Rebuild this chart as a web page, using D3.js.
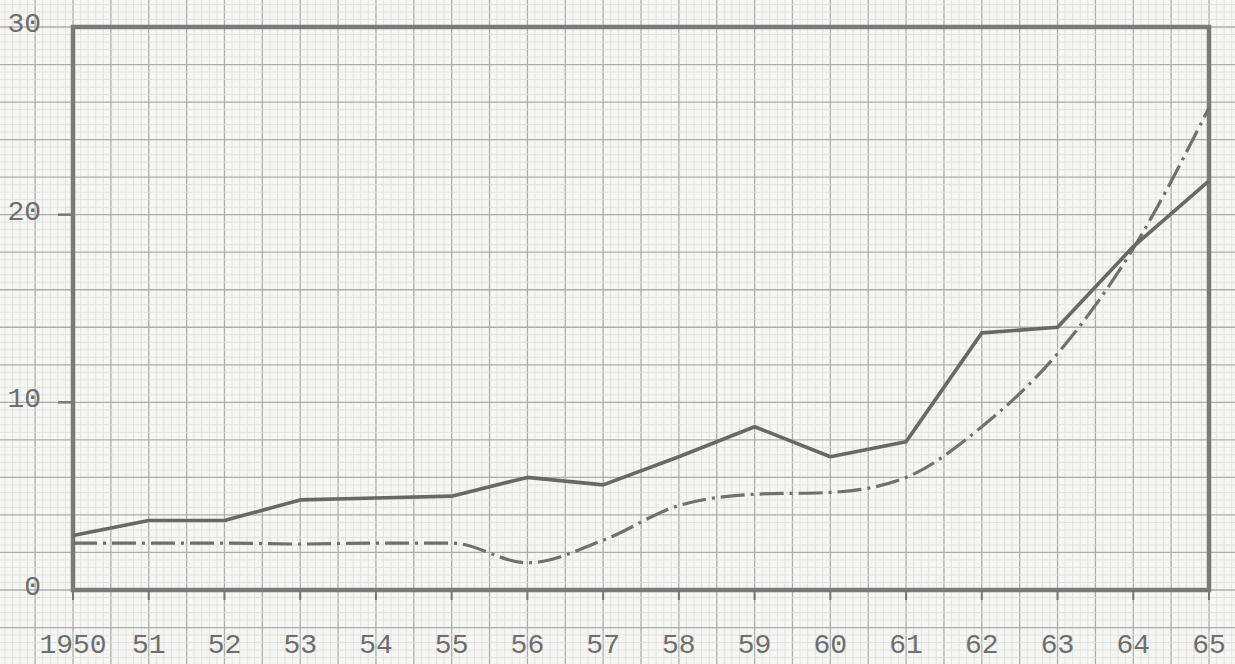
<!DOCTYPE html>
<html>
<head>
<meta charset="utf-8">
<script src="https://cdn.jsdelivr.net/npm/d3@7"></script>
<style>
    html, body { margin: 0; padding: 0; background: #f6f6f4; }
    svg { display: block; }
    .lbl { font-family: "Liberation Mono", "DejaVu Sans Mono", monospace; font-size: 28px; fill: #6e6e6e; }
</style>
</head>
<body>
<div id="chart"></div>
<script>
var years = [1950, 1951, 1952, 1953, 1954, 1955, 1956, 1957, 1958, 1959, 1960, 1961, 1962, 1963, 1964, 1965];
var yearLabels = ['1950', '51', '52', '53', '54', '55', '56', '57', '58', '59', '60', '61', '62', '63', '64', '65'];
var solidValues = [2.9, 3.7, 3.7, 4.8, 4.9, 5.0, 6.0, 5.6, 7.1, 8.7, 7.1, 7.9, 13.7, 14.0, 18.3, 21.8];
var dashValues = [2.5, 2.5, 2.5, 2.45, 2.5, 2.5, 1.45, 2.65, 4.5, 5.1, 5.2, 6.0, 8.7, 12.6, 18.2, 25.7];
var yTicks = [0, 10, 20, 30];

var W = 1235, H = 664;

var x = d3.scaleLinear().domain([1950, 1965]).range([73, 1209]),
    y = d3.scaleLinear().domain([0, 30]).range([590, 27]);

var svg = d3.select('#chart').append('svg')
    .attr('width', W)
    .attr('height', H);

svg.append('rect').attr('width', W).attr('height', H).attr('fill', '#f6f6f4');

// graph paper: fine lines every 1/5 of a major square
var gx = [], gy = [], i, v;
for (i = -60; i <= 200; i++) {
    v = 1950 + i * 0.1;
    if (x(v) >= 0 && x(v) <= W) gx.push({v: v, major: i % 5 === 0});
}
for (i = -20; i <= 90; i++) {
    v = i * 0.4;
    if (y(v) >= 0 && y(v) <= H) gy.push({v: v, major: i % 5 === 0});
}

var grid = svg.append('g').attr('class', 'grid');
grid.selectAll('line.gx')
    .data(gx)
    .enter().append('line')
    .attr('class', 'gx')
    .attr('x1', function(d) { return x(d.v); })
    .attr('x2', function(d) { return x(d.v); })
    .attr('y1', 0)
    .attr('y2', H)
    .attr('stroke', function(d) { return d.major ? '#adadad' : '#e0e0de'; })
    .attr('stroke-width', function(d) { return d.major ? 1.3 : 0.9; });
grid.selectAll('line.gy')
    .data(gy)
    .enter().append('line')
    .attr('class', 'gy')
    .attr('x1', 0)
    .attr('x2', W)
    .attr('y1', function(d) { return y(d.v); })
    .attr('y2', function(d) { return y(d.v); })
    .attr('stroke', function(d) { return d.major ? '#adadad' : '#e0e0de'; })
    .attr('stroke-width', function(d) { return d.major ? 1.3 : 0.9; });

// frame
svg.append('rect')
    .attr('x', x(1950))
    .attr('y', y(30))
    .attr('width', x(1965) - x(1950))
    .attr('height', y(0) - y(30))
    .attr('fill', 'none')
    .attr('stroke', '#7a7a7a')
    .attr('stroke-width', 4.5);

// ticks
svg.selectAll('line.xt')
    .data(years)
    .enter().append('line')
    .attr('class', 'xt')
    .attr('x1', function(d) { return x(d); })
    .attr('x2', function(d) { return x(d); })
    .attr('y1', y(0))
    .attr('y2', y(0) + 10)
    .attr('stroke', '#777')
    .attr('stroke-width', 2);
svg.selectAll('line.yt')
    .data([10, 20])
    .enter().append('line')
    .attr('class', 'yt')
    .attr('x1', x(1950) - 15)
    .attr('x2', x(1950))
    .attr('y1', function(d) { return y(d); })
    .attr('y2', function(d) { return y(d); })
    .attr('stroke', '#777')
    .attr('stroke-width', 2.5);

// labels
svg.selectAll('text.xl')
    .data(years)
    .enter().append('text')
    .attr('class', 'lbl xl')
    .attr('x', function(d) { return x(d); })
    .attr('y', 653)
    .attr('text-anchor', 'middle')
    .text(function(d, i) { return yearLabels[i]; });
svg.selectAll('text.yl')
    .data(yTicks)
    .enter().append('text')
    .attr('class', 'lbl yl')
    .attr('x', 41)
    .attr('y', function(d) { return y(d) + 5; })
    .attr('text-anchor', 'end')
    .text(function(d) { return d; });

// series
var solid = d3.line()
    .x(function(d, i) { return x(years[i]); })
    .y(function(d) { return y(d); });
var dashed = d3.line()
    .curve(d3.curveMonotoneX)
    .x(function(d, i) { return x(years[i]); })
    .y(function(d) { return y(d); });

svg.append('path')
    .attr('d', dashed(dashValues))
    .attr('fill', 'none')
    .attr('stroke', '#707070')
    .attr('stroke-width', 3.2)
    .attr('stroke-dasharray', '24,6,3,6');
svg.append('path')
    .attr('d', solid(solidValues))
    .attr('fill', 'none')
    .attr('stroke', '#686868')
    .attr('stroke-width', 3.6)
    .attr('stroke-linejoin', 'round');
</script>
</body>
</html>
